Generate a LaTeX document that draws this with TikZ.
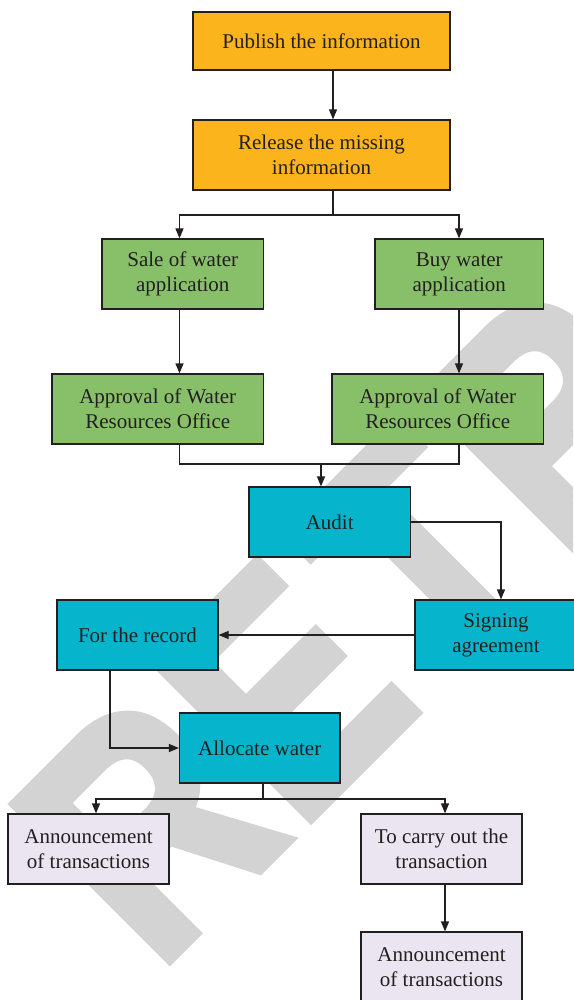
\documentclass[tikz,border=0pt]{standalone}
\usepackage{fontspec}
\setmainfont{Liberation Serif}
\newfontfamily\wmfont{Liberation Sans}[BoldFeatures={FakeBold=3}]
\usetikzlibrary{arrows.meta}
\definecolor{cOrange}{RGB}{252,180,28}
\definecolor{cGreen}{RGB}{136,192,106}
\definecolor{cCyan}{RGB}{6,181,204}
\definecolor{cLav}{RGB}{234,229,241}
\definecolor{cLine}{RGB}{35,31,32}
\definecolor{cMark}{RGB}{211,211,211}
\begin{document}
\begin{tikzpicture}[x=1pt,y=-1pt,
  wmletter/.style={anchor=base west, rotate=45, inner sep=0pt, text=cMark,
    font=\wmfont\bfseries\fontsize{320}{320}\selectfont},
  box/.style={draw=cLine, line width=1.2pt, inner sep=0pt, align=center,
    minimum height=70pt, text=cLine, font=\fontsize{21}{25}\selectfont},
  orangebox/.style={box, fill=cOrange},
  greenbox/.style={box, fill=cGreen},
  cyanbox/.style={box, fill=cCyan},
  lavbox/.style={box, fill=cLav},
  ln/.style={draw=cLine, line width=1.2pt},
  arr/.style={ln, -{Triangle[length=10pt,width=8pt]}}]
\useasboundingbox (0,0) rectangle (573,1000);
% diagonal watermark lettering behind the chart
\begin{scope}
  \clip (0,0) rectangle (573,1000);
  \node[wmletter] (wmR) at (156.45,973.05) {\scalebox{0.84}[1]{R}};
  \node[wmletter] (wmE) at (297.75,831.75) {\scalebox{0.84}[1]{E}};
  \node[wmletter] (wmT) at (438.3,691.2) {\scalebox{0.84}[1]{T}};
  \node[wmletter] (wmRb) at (564.55,564.95) {\scalebox{0.84}[1]{R}};
\end{scope}
% boxes
\node[orangebox, minimum width=257pt, minimum height=58pt] (pub) at (321.5,41) {Publish the information};
\node[orangebox, minimum width=257pt] (rel) at (321.5,155) {Release the missing\\information};
\node[greenbox, minimum width=161.5pt] (sale) at (182.75,274) {Sale of water\\application};
\node[greenbox, minimum width=168.5pt] (buy) at (459.25,274) {Buy water\\application};
\node[greenbox, minimum width=211.5pt] (apprL) at (157.75,409) {Approval of Water\\Resources Office};
\node[greenbox, minimum width=211.5pt] (apprR) at (437.75,409) {Approval of Water\\Resources Office};
\node[cyanbox, minimum width=161.5pt] (audit) at (329.75,522) {Audit};
\node[cyanbox, minimum width=162pt] (sign) at (496,635) {Signing\\agreement};
\node[cyanbox, minimum width=161pt] (record) at (137.5,635) {For the record};
\node[cyanbox, minimum width=160.5pt] (alloc) at (259.75,748) {Allocate water};
\node[lavbox, minimum width=161pt] (annL) at (88.5,849) {Announcement\\of transactions};
\node[lavbox, minimum width=161pt] (carry) at (441.5,849) {To carry out the\\transaction};
\node[lavbox, minimum width=161pt] (annR) at (441.5,967) {Announcement\\of transactions};
% connector columns and junctions
\coordinate (xA) at (179.5,0);
\coordinate (xB) at (459,0);
\coordinate (xC) at (333,0);
\coordinate (xD) at (321,0);
\coordinate (xE) at (501,0);
\coordinate (xF) at (110,0);
\coordinate (xG) at (263,0);
\coordinate (xH) at (96,0);
\coordinate (xI) at (445,0);
\coordinate (s1) at (333,215);
\coordinate (s2) at (321,464);
\coordinate (s3) at (263,799);
% connectors
\draw[arr] (pub.south -| xC) -- (rel.north -| xC);
\draw[ln] (rel.south -| xC) -- (s1);
\draw[arr] (s1) -| (sale.north -| xA);
\draw[arr] (s1) -| (buy.north -| xB);
\draw[arr] (sale.south -| xA) -- (apprL.north -| xA);
\draw[arr] (buy.south -| xB) -- (apprR.north -| xB);
\draw[ln] (apprL.south -| xA) |- (s2) -| (apprR.south -| xB);
\draw[arr] (s2) -- (audit.north -| xD);
\draw[arr] (audit.east) -| (sign.north -| xE);
\draw[arr] (sign.west) -- (record.east);
\draw[arr] (record.south -| xF) |- (alloc.west);
\draw[ln] (alloc.south -| xG) -- (s3);
\draw[arr] (s3) -| (annL.north -| xH);
\draw[arr] (s3) -| (carry.north -| xI);
\draw[arr] (carry.south -| xI) -- (annR.north -| xI);
\end{tikzpicture}
\end{document}
